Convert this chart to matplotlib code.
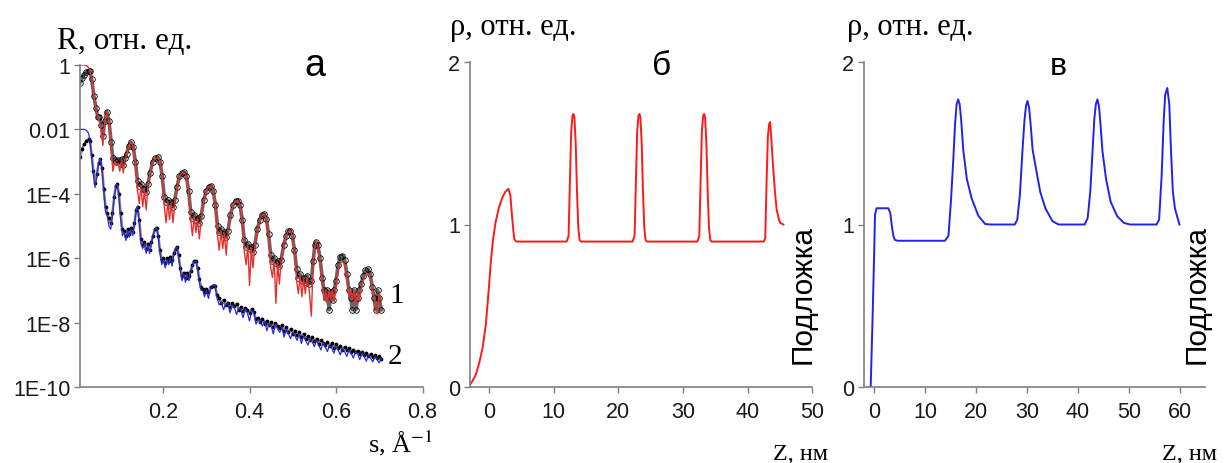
import numpy as np
import matplotlib
matplotlib.use("Agg")
import matplotlib.pyplot as plt

# --- panel a: reflectivity curves (log10 R) ---
s1 = [0.008, 0.013, 0.018, 0.023, 0.028, 0.031, 0.035, 0.040, 0.045, 0.049,
      0.053, 0.057, 0.061, 0.065, 0.070, 0.075, 0.080, 0.084, 0.088, 0.092,
      0.096, 0.100, 0.104, 0.108, 0.112, 0.116, 0.121, 0.126, 0.131, 0.136,
      0.141, 0.145, 0.149, 0.153, 0.157, 0.161, 0.165, 0.170, 0.176, 0.182,
      0.188, 0.193, 0.198, 0.203, 0.207, 0.211, 0.215, 0.219, 0.223, 0.227,
      0.232, 0.238, 0.244, 0.249, 0.254, 0.259, 0.264, 0.268, 0.272, 0.276,
      0.280, 0.284, 0.288, 0.294, 0.300, 0.306, 0.311, 0.316, 0.321, 0.326,
      0.330, 0.334, 0.338, 0.342, 0.346, 0.350, 0.356, 0.362, 0.368, 0.373,
      0.378, 0.383, 0.388, 0.392, 0.396, 0.400, 0.404, 0.408, 0.412, 0.418,
      0.424, 0.429, 0.434, 0.439, 0.444, 0.449, 0.453, 0.457, 0.461, 0.465,
      0.469, 0.473, 0.479, 0.485, 0.490, 0.494, 0.499, 0.504, 0.509, 0.513,
      0.517, 0.521, 0.525, 0.529, 0.533, 0.538, 0.543, 0.547, 0.551, 0.554,
      0.558, 0.563, 0.568, 0.572, 0.576, 0.580, 0.584, 0.588, 0.592, 0.596,
      0.600, 0.605, 0.610, 0.615, 0.620, 0.625, 0.630, 0.634, 0.638, 0.642,
      0.646, 0.650, 0.654, 0.658, 0.663, 0.668, 0.674, 0.679, 0.684, 0.688,
      0.692, 0.696, 0.700, 0.705]
data1 = [-0.55, -0.40, -0.30, -0.22, -0.18, -0.20, -0.45, -0.95, -1.35, -1.60,
         -1.62, -1.85, -2.20, -1.75, -1.45, -1.75, -2.40, -2.90, -2.95, -3.00,
         -2.95, -3.05, -2.92, -3.10, -2.90, -2.75, -2.50, -2.40, -2.55, -3.00,
         -3.60, -3.75, -3.70, -3.85, -3.85, -3.95, -3.70, -3.35, -3.00, -2.90,
         -2.86, -3.00, -3.45, -4.10, -4.25, -4.20, -4.35, -4.25, -4.40, -4.20,
         -3.80, -3.45, -3.35, -3.33, -3.45, -3.90, -4.55, -4.75, -4.65, -4.80,
         -4.75, -4.90, -4.70, -4.20, -3.90, -3.78, -3.75, -3.90, -4.35, -5.00,
         -5.20, -5.10, -5.25, -5.20, -5.35, -5.15, -4.65, -4.35, -4.23, -4.21,
         -4.35, -4.80, -5.45, -5.65, -5.55, -5.70, -5.65, -5.80, -5.60, -5.10,
         -4.80, -4.66, -4.63, -4.78, -5.25, -5.90, -6.10, -6.00, -6.15, -6.10,
         -6.25, -6.05, -5.60, -5.30, -5.17, -5.15, -5.30, -5.75, -6.35, -6.60,
         -6.50, -6.70, -6.60, -6.75, -6.55, -6.80, -6.70, -6.10, -5.60, -5.50,
         -5.60, -6.00, -6.60, -7.00, -7.25, -7.00, -7.60, -7.05, -7.30, -7.00,
         -6.70, -6.20, -5.95, -5.92, -6.05, -6.50, -7.00, -7.25, -7.60, -7.00,
         -7.60, -7.25, -7.00, -6.80, -6.55, -6.38, -6.34, -6.50, -6.90, -7.25,
         -7.60, -7.00, -7.25, -7.60]
model1 = [0.00, 0.00, 0.00, -0.02, -0.08, -0.18, -0.45, -0.95, -1.40, -1.65,
          -1.75, -2.10, -2.50, -1.80, -1.45, -1.80, -2.60, -3.30, -3.00, -3.10,
          -3.05, -3.30, -2.95, -3.35, -2.95, -2.80, -2.50, -2.40, -2.55, -3.05,
          -3.90, -4.30, -3.75, -4.40, -3.90, -4.50, -3.80, -3.40, -3.00, -2.90,
          -2.86, -3.00, -3.50, -4.40, -4.90, -4.25, -4.80, -4.30, -4.90, -4.30,
          -3.85, -3.45, -3.35, -3.33, -3.45, -3.95, -4.80, -5.30, -4.70, -5.20,
          -4.80, -5.40, -4.80, -4.25, -3.90, -3.78, -3.75, -3.90, -4.40, -5.30,
          -5.75, -5.15, -5.70, -5.25, -5.90, -5.20, -4.70, -4.35, -4.23, -4.21,
          -4.35, -4.85, -5.80, -6.20, -5.60, -6.85, -5.70, -6.30, -5.65, -5.15,
          -4.80, -4.66, -4.63, -4.78, -5.30, -6.30, -6.60, -6.05, -7.40, -6.15,
          -6.80, -6.10, -5.65, -5.30, -5.17, -5.15, -5.30, -5.80, -6.70, -7.10,
          -6.55, -7.20, -6.65, -7.10, -6.60, -7.00, -7.80, -6.20, -5.65, -5.50,
          -5.62, -6.10, -6.80, -7.30, -7.00, -7.40, -7.00, -7.30, -7.00, -7.35,
          -6.90, -6.40, -6.15, -6.10, -6.20, -6.60, -7.20, -7.00, -7.30, -7.00,
          -7.45, -7.05, -7.30, -6.95, -6.70, -6.50, -6.48, -6.60, -7.00, -7.20,
          -7.50, -7.73, -7.10, -7.30]

s2 = [0.008, 0.013, 0.018, 0.023, 0.028, 0.031, 0.035, 0.039, 0.043, 0.047,
      0.051, 0.055, 0.059, 0.063, 0.067, 0.071, 0.075, 0.079, 0.083, 0.087,
      0.091, 0.094, 0.098, 0.102, 0.106, 0.110, 0.114, 0.118, 0.122, 0.126,
      0.130, 0.134, 0.138, 0.141, 0.145, 0.149, 0.153, 0.157, 0.161, 0.165,
      0.169, 0.173, 0.177, 0.181, 0.185, 0.189, 0.193, 0.197, 0.201, 0.205,
      0.209, 0.213, 0.217, 0.221, 0.225, 0.229, 0.232, 0.236, 0.240, 0.244,
      0.248, 0.252, 0.256, 0.260, 0.264, 0.268, 0.272, 0.276, 0.280, 0.284,
      0.288, 0.292, 0.296, 0.300, 0.305, 0.310, 0.315, 0.320, 0.325, 0.330,
      0.335, 0.340, 0.345, 0.350, 0.355, 0.360, 0.365, 0.370, 0.375, 0.380,
      0.385, 0.390, 0.395, 0.400, 0.405, 0.410, 0.415, 0.420, 0.425, 0.430,
      0.435, 0.440, 0.445, 0.450, 0.455, 0.460, 0.465, 0.470, 0.475, 0.480,
      0.485, 0.490, 0.495, 0.500, 0.505, 0.510, 0.515, 0.520, 0.525, 0.530,
      0.535, 0.540, 0.545, 0.550, 0.555, 0.560, 0.565, 0.570, 0.575, 0.580,
      0.585, 0.590, 0.595, 0.600, 0.605, 0.610, 0.615, 0.620, 0.625, 0.630,
      0.635, 0.640, 0.645, 0.650, 0.655, 0.660, 0.665, 0.670, 0.675, 0.680,
      0.685, 0.690, 0.695, 0.700, 0.705]
data2 = [-2.85, -2.60, -2.45, -2.35, -2.30, -2.35, -2.80, -3.30, -3.65, -3.40,
         -3.05, -2.92, -3.20, -3.85, -4.40, -4.60, -4.75, -4.90, -4.60, -4.10,
         -3.75, -3.70, -4.00, -4.60, -5.10, -5.15, -5.30, -5.10, -5.25, -5.05,
         -5.20, -4.90, -4.50, -4.40, -4.80, -5.40, -5.60, -5.50, -5.70, -5.55,
         -5.75, -5.50, -5.30, -5.10, -5.05, -5.30, -5.75, -6.05, -6.00, -6.15,
         -6.00, -6.10, -5.95, -6.05, -5.85, -5.70, -5.65, -5.90, -6.30, -6.55,
         -6.45, -6.60, -6.45, -6.55, -6.40, -6.20, -6.10, -6.08, -6.30, -6.65,
         -6.90, -6.95, -7.05, -6.95, -7.05, -6.90, -6.85, -6.85, -7.15, -7.25,
         -7.40, -7.30, -7.45, -7.38, -7.50, -7.40, -7.48, -7.42, -7.60, -7.52,
         -7.65, -7.55, -7.62, -7.70, -7.58, -7.66, -7.90, -7.85, -7.98, -7.88,
         -8.05, -7.95, -8.08, -7.98, -8.15, -8.02, -8.10, -8.18, -8.08, -8.25,
         -8.15, -8.30, -8.20, -8.36, -8.25, -8.40, -8.30, -8.45, -8.35, -8.50,
         -8.42, -8.55, -8.45, -8.58, -8.50, -8.65, -8.55, -8.62, -8.70, -8.60,
         -8.72, -8.64, -8.78, -8.68, -8.80, -8.72, -8.84, -8.76, -8.86, -8.80,
         -8.90, -8.84, -8.92, -8.88, -8.96, -8.90, -9.00, -8.94, -9.04, -8.98,
         -9.06, -9.02, -9.10, -9.05, -9.12]
model2 = [-2.00, -2.00, -2.00, -2.03, -2.12, -2.35, -2.85, -3.40, -3.80, -3.45,
          -3.05, -2.90, -3.25, -3.95, -4.55, -4.70, -5.00, -5.10, -4.70, -4.15,
          -3.75, -3.70, -4.10, -4.80, -5.30, -5.20, -5.45, -5.15, -5.35, -5.10,
          -5.30, -4.95, -4.50, -4.40, -4.90, -5.55, -5.70, -5.55, -5.85, -5.60,
          -5.85, -5.55, -5.30, -5.12, -5.05, -5.35, -5.85, -6.20, -6.05, -6.30,
          -6.05, -6.20, -6.00, -6.25, -5.90, -5.70, -5.65, -5.95, -6.40, -6.70,
          -6.50, -6.75, -6.50, -6.70, -6.45, -6.25, -6.10, -6.08, -6.35, -6.75,
          -7.00, -7.00, -7.20, -7.00, -7.25, -6.95, -6.85, -6.82, -7.25, -7.45,
          -7.38, -7.60, -7.42, -7.40, -7.70, -7.45, -7.52, -7.75, -7.55, -7.60,
          -7.85, -7.58, -7.70, -7.95, -7.62, -7.70, -8.05, -7.90, -8.00, -8.10,
          -7.95, -8.25, -8.05, -8.10, -8.35, -8.05, -8.20, -8.30, -8.15, -8.45,
          -8.20, -8.35, -8.50, -8.30, -8.40, -8.55, -8.35, -8.65, -8.40, -8.55,
          -8.70, -8.50, -8.60, -8.75, -8.55, -8.70, -8.85, -8.60, -8.75, -8.90,
          -8.70, -8.78, -8.95, -8.72, -8.85, -9.00, -8.80, -8.90, -9.05, -8.85,
          -8.95, -9.10, -8.90, -8.98, -9.15, -8.95, -9.05, -9.20, -9.00, -9.10,
          -9.22, -9.05, -9.15, -9.25, -9.10]

# --- panel b: density profile, red ---
zb = [-3.0, -2.5, -2.0, -1.5, -1.0, -0.5, 0.0, 0.3, 0.6, 1.0, 1.5, 2.0, 2.5, 3.0,
      3.3, 3.6, 3.9, 4.2,
      12.0, 12.3, 12.5, 12.7, 12.9, 13.05, 13.2, 13.4, 13.6, 13.8, 14.0, 14.2,
      22.2, 22.5, 22.7, 22.9, 23.1, 23.25, 23.4, 23.6, 23.8, 24.0, 24.2, 24.4,
      32.2, 32.5, 32.7, 32.9, 33.1, 33.25, 33.4, 33.6, 33.8, 34.0, 34.2, 34.4,
      42.5, 42.7, 42.9, 43.1, 43.3, 43.45, 43.65, 43.9, 44.2, 44.45, 44.75, 45.0, 45.5]
rhob = [0.01, 0.04, 0.08, 0.15, 0.24, 0.38, 0.62, 0.78, 0.90, 1.01, 1.10, 1.16, 1.20, 1.22,
        1.18, 1.03, 0.91, 0.895,
        0.895, 0.93, 1.26, 1.57, 1.67, 1.68, 1.66, 1.50, 1.20, 0.98, 0.905, 0.895,
        0.895, 0.93, 1.26, 1.57, 1.67, 1.68, 1.66, 1.50, 1.20, 0.98, 0.905, 0.895,
        0.895, 0.93, 1.26, 1.57, 1.67, 1.68, 1.66, 1.50, 1.20, 0.98, 0.905, 0.895,
        0.895, 0.92, 1.26, 1.54, 1.62, 1.63, 1.52, 1.36, 1.20, 1.095, 1.04, 1.01, 1.00]

# --- panel c: density profile, blue ---
zc = [-0.65, -0.3, 0.0, 0.2, 0.5, 1.0, 2.0, 2.8, 3.2, 3.5, 3.8, 4.1, 4.6,
      13.9, 14.6, 15.1, 15.55, 15.9, 16.2, 16.5, 16.8, 17.1, 17.5, 18.2, 19.15, 20.45, 21.8, 22.8,
      27.6, 28.1, 28.6, 29.1, 29.5, 29.8, 30.1, 30.4, 30.7, 31.1, 31.9, 32.6, 33.6, 35.0, 36.2,
      41.3, 41.9, 42.4, 42.9, 43.2, 43.5, 43.8, 44.1, 44.4, 44.8, 45.5, 46.4, 47.7, 49.0, 50.2,
      55.4, 55.9, 56.4, 56.8, 57.1, 57.5, 57.9, 58.2, 58.6, 59.0, 59.4, 59.9]
rhoc = [0.0, 0.40, 0.78, 1.06, 1.10, 1.10, 1.10, 1.10, 1.07, 0.99, 0.93, 0.905, 0.90,
        0.90, 0.93, 1.15, 1.40, 1.62, 1.74, 1.77, 1.74, 1.64, 1.46, 1.28, 1.16, 1.054, 1.003, 1.0,
        1.0, 1.03, 1.18, 1.45, 1.64, 1.73, 1.76, 1.72, 1.62, 1.46, 1.32, 1.20, 1.10, 1.02, 1.0,
        1.0, 1.04, 1.20, 1.48, 1.65, 1.74, 1.77, 1.73, 1.62, 1.45, 1.28, 1.14, 1.05, 1.01, 1.0,
        1.0, 1.03, 1.30, 1.64, 1.80, 1.84, 1.74, 1.48, 1.20, 1.10, 1.054, 1.0]

yt_a = [1, 1e-2, 1e-4, 1e-6, 1e-8, 1e-10]
yt_a_labels = ["1", "0.01", "1E-4", "1E-6", "1E-8", "1E-10"]

W, H = 1227, 464
fig = plt.figure(figsize=(W / 100, H / 100), dpi=100)

sans = "Liberation Sans"
serif = "Liberation Serif"
plt.rcParams["mathtext.fontset"] = "stix"
spine_col = "#808080"


def px(x0, y0, x1, y1):
    # axes rect from pixel box (left, top, right, bottom)
    return [x0 / W, 1 - y1 / H, (x1 - x0) / W, (y1 - y0) / H]


def style(ax):
    for sp in ["top", "right"]:
        ax.spines[sp].set_visible(False)
    for sp in ["left", "bottom"]:
        ax.spines[sp].set_color(spine_col)
        ax.spines[sp].set_linewidth(1.2)
    ax.tick_params(direction="out", length=4, width=1.0, color=spine_col,
                   labelsize=15.5, labelcolor="#1a1a1a")
    ax.tick_params(axis="x", pad=6)
    ax.tick_params(axis="y", pad=3)
    for lab in ax.get_xticklabels() + ax.get_yticklabels():
        lab.set_fontfamily(sans)


# panel a
ax1 = fig.add_axes(px(80, 66, 422.5, 388))
ax1.set_yscale("log")
r1 = [10 ** v for v in data1]
r2 = [10 ** v for v in data2]
# measured points: dark band of open circles / dots
ax1.plot(s1, r1, color="#333333", lw=2.6, alpha=0.75, solid_joinstyle="round")
ax1.plot(s1, r1, "o", ms=4.0, mfc="none", mec="black", mew=0.6)
ax1.plot(s1, [10 ** v for v in model1], color="#e53030", lw=1.0)
ax1.plot(s2, r2, color="#333333", lw=1.8, alpha=0.6, solid_joinstyle="round")
ax1.plot(s2, r2, ".", ms=3.4, color="black")
ax1.plot(s2, [10 ** v for v in model2], color="#2a2ad0", lw=0.9)
ax1.set_xlim(0.008, 0.8)
ax1.set_ylim(1e-10, 1)
ax1.set_yticks(yt_a)
ax1.set_yticklabels(yt_a_labels)
ax1.minorticks_off()
ax1.set_xticks([0.2, 0.4, 0.6, 0.8])
ax1.set_xticklabels(["0.2", "0.4", "0.6", "0.8"])
style(ax1)

# panel b
ax2 = fig.add_axes(px(469.6, 63, 812.5, 388))
ax2.plot(zb, rhob, color="#ff1a1a", lw=1.4)
ax2.set_xlim(-3, 50)
ax2.set_ylim(0, 2)
ax2.set_xticks([0, 10, 20, 30, 40, 50])
ax2.set_yticks([0, 1, 2])
style(ax2)

# panel c
ax3 = fig.add_axes(px(863.8, 63, 1205, 388))
ax3.plot(zc, rhoc, color="#2222ee", lw=1.4)
ax3.set_xlim(-2, 64.9)
ax3.set_ylim(0, 2)
ax3.set_xticks([0, 10, 20, 30, 40, 50, 60])
ax3.set_yticks([0, 1, 2])
style(ax3)


def ftext(x, y, s, **kw):
    fig.text(x / W, 1 - y / H, s, **kw)


ftext(57, 49, "R, отн. ед.", family=serif, fontsize=22.5, va="baseline")
ftext(450, 35, "ρ, отн. ед.", family=serif, fontsize=22, va="baseline")
ftext(847, 35, "ρ, отн. ед.", family=serif, fontsize=22, va="baseline")

ftext(315, 76, "а", family=sans, fontsize=27, ha="center", va="baseline")
ftext(662, 75, "б", family=sans, fontsize=24, ha="center", va="baseline")
ftext(1058, 75, "в", family=sans, fontsize=23, ha="center", va="baseline")

ftext(389, 303, "1", family=serif, fontsize=21, va="baseline")
ftext(388, 364, "2", family=serif, fontsize=21, va="baseline")

ftext(368, 452, r"s, Å$^{-1}$", family=serif, fontsize=19, va="baseline")
ftext(773, 460, "Z, нм", family=serif, fontsize=17.5, va="baseline")
ftext(1162, 460, "Z, нм", family=serif, fontsize=17.5, va="baseline")

ftext(803, 295, "Подложка", family=sans, fontsize=21.5, rotation=90,
      ha="center", va="center")
ftext(1197, 295, "Подложка", family=sans, fontsize=21.5, rotation=90,
      ha="center", va="center")

fig.savefig("out.png", dpi=100)
